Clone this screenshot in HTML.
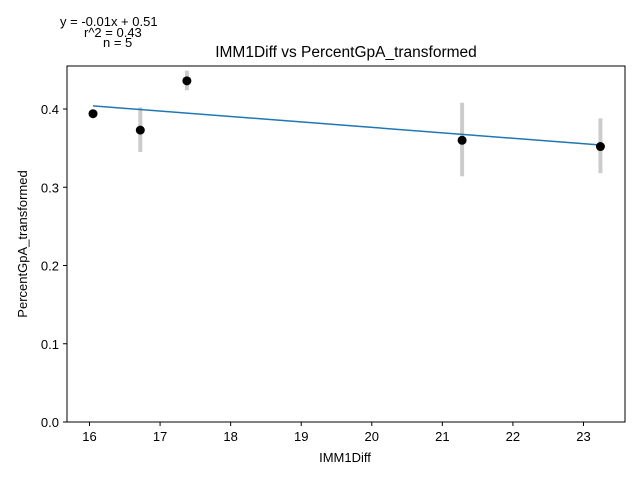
<!DOCTYPE html>
<html><head><meta charset="utf-8"><style>
body{margin:0;background:#fff;font-family:"Liberation Sans","DejaVu Sans",sans-serif;}
svg{display:block}
</style></head><body>
<svg id="chart" width="640" height="480">
<text x="60" y="26" font-size="13">y = -0.01x + 0.51</text>
<text x="84" y="37" font-size="13">r^2 = 0.43</text>
<text x="103" y="47" font-size="13">n = 5</text>
<text x="346" y="57" font-size="15.5" text-anchor="middle">IMM1Diff vs PercentGpA_transformed</text>
<text x="345" y="462" font-size="13" text-anchor="middle">IMM1Diff</text>
<text transform="translate(27,244) rotate(-90)" font-size="13" text-anchor="middle">PercentGpA_transformed</text>
<g id="ticks"></g><g id="marks"></g>
<rect x="67" y="66" width="558" height="356" fill="none" stroke="#000" stroke-width="1"/>
</svg>
<script>
const xVals=[16.05,16.72,17.38,21.28,23.24];
const yVals=[0.394,0.373,0.436,0.360,0.352];
const errLow=[0.394,0.345,0.424,0.314,0.318];
const errHigh=[0.394,0.402,0.449,0.408,0.388];
const fitY=[0.404,0.354];
const fitX=[16.05,23.24];
const xTicks=[16,17,18,19,20,21,22,23];
const yTicks=[0.0,0.1,0.2,0.3,0.4];
const sx=v=>89.5+(v-16)*70.57;
const sy=v=>422-v*782.5;
const NS="http://www.w3.org/2000/svg";
const tk=document.getElementById('ticks'),mk=document.getElementById('marks');
function el(p,t,a){const e=document.createElementNS(NS,t);for(const k in a)e.setAttribute(k,a[k]);p.appendChild(e);return e;}
xTicks.forEach(t=>{const x=sx(t);
const l=el(tk,'line',{x1:x,x2:x,y1:422,y2:426,stroke:'#000'});


const tx=el(tk,'text',{x:x,y:441,'font-size':13,'text-anchor':'middle'});tx.textContent=t;

});
yTicks.forEach(t=>{const y=sy(t);
const l=el(tk,'line',{x1:63,x2:67,y1:y,y2:y,stroke:'#000'});


const tx=el(tk,'text',{x:59,y:y+5,'font-size':13,'text-anchor':'end'});tx.textContent=t.toFixed(1);

});
xVals.forEach((v,i)=>{const e=el(mk,'line',{x1:sx(v),x2:sx(v),y1:sy(errLow[i]),y2:sy(errHigh[i]),stroke:'#cccccc','stroke-width':4});

});
const fl=el(mk,'line',{x1:sx(fitX[0]),y1:sy(fitY[0]),x2:sx(fitX[1]),y2:sy(fitY[1]),stroke:'#1f77b4','stroke-width':1.5});


xVals.forEach((v,i)=>{const c=el(mk,'circle',{cx:sx(v),cy:sy(yVals[i]),r:4.5,fill:'#000'});

});
</script>
</body></html>
